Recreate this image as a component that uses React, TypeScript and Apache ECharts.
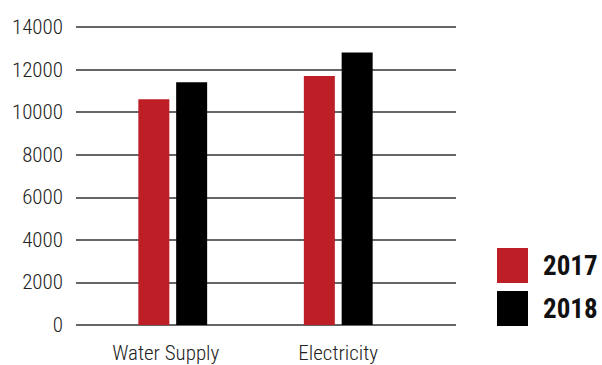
import React, { useEffect, useRef } from "react";
import * as echarts from "echarts";

const categories = ["Water Supply", "Electricity"];
const years = ["2017", "2018"];
const values2017 = [10600, 11700];
const values2018 = [11400, 12800];
const yTicks = { min: 0, max: 14000, interval: 2000 };

const RED = "#BE1F26";
const BLACK = "#000000";
const FONT = "'Roboto Condensed', 'Roboto', sans-serif";

export default function App() {
  const ref = useRef<HTMLDivElement>(null);

  useEffect(() => {
    if (!ref.current) return;
    const chart = echarts.init(ref.current, null, { renderer: "svg" });
    // first category label sits slightly left of its bar pair
    const categoryData = categories.map((c, i) =>
      i === 0 ? { value: c, textStyle: { padding: [0, 14, 0, 0] } } : c
    );
    chart.setOption({
      animation: false,
      backgroundColor: "#ffffff",
      grid: [
        // value grid with the horizontal rules and tick labels
        { left: 76, right: 146, top: 27, bottom: 40 },
        // narrower grid holding the bars
        { left: 90, right: 181, top: 27, bottom: 40 },
      ],
      legend: {
        orient: "vertical",
        left: 497,
        top: 248,
        padding: 0,
        itemWidth: 31,
        itemHeight: 35,
        itemGap: 8,
        icon: "rect",
        data: years,
        textStyle: {
          fontFamily: FONT,
          fontSize: 27,
          fontWeight: "bold",
          color: "#111",
          padding: [0, 0, 0, 10],
        },
      },
      xAxis: [
        {
          gridIndex: 0,
          type: "category",
          data: categories,
          show: false,
        },
        {
          gridIndex: 1,
          type: "category",
          data: categoryData,
          axisLine: { show: false },
          axisTick: { show: false },
          axisLabel: {
            interval: 0,
            margin: 17,
            fontFamily: FONT,
            fontSize: 21,
            fontWeight: 300,
            color: "#222",
          },
        },
      ],
      yAxis: [
        {
          gridIndex: 0,
          type: "value",
          ...yTicks,
          axisLine: { show: false },
          axisTick: { show: false },
          axisLabel: {
            margin: 13,
            fontFamily: FONT,
            fontSize: 21,
            fontWeight: 300,
            color: "#222",
            formatter: (v: number) => String(v),
          },
          splitLine: { lineStyle: { color: "#333", width: 1.5 } },
        },
        {
          gridIndex: 1,
          type: "value",
          ...yTicks,
          show: false,
          splitLine: { show: false },
        },
      ],
      series: [
        {
          name: years[0],
          type: "bar",
          xAxisIndex: 1,
          yAxisIndex: 1,
          data: values2017,
          barWidth: 31,
          barGap: "22%",
          itemStyle: { color: RED },
        },
        {
          name: years[1],
          type: "bar",
          xAxisIndex: 1,
          yAxisIndex: 1,
          data: values2018,
          barWidth: 31,
          barGap: "22%",
          itemStyle: { color: BLACK },
        },
      ],
    });
    return () => chart.dispose();
  }, []);

  return <div ref={ref} style={{ width: 602, height: 365, position: "absolute", left: 0, top: 0 }} />;
}
